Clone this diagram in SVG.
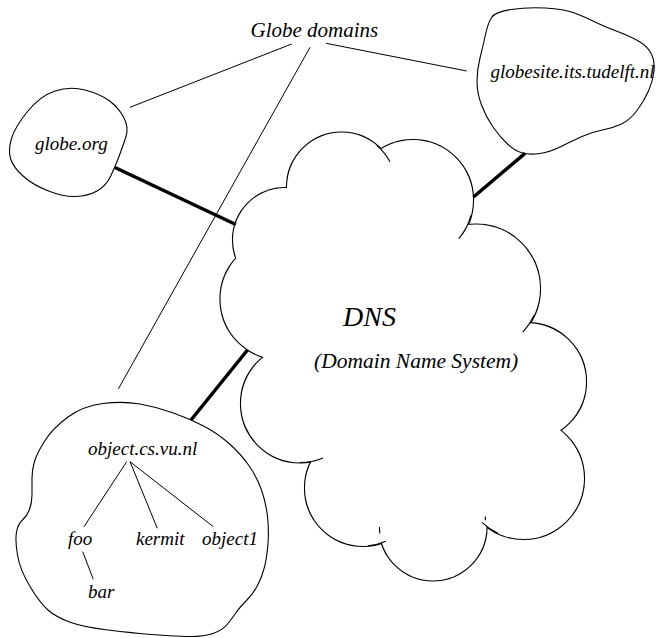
<svg xmlns="http://www.w3.org/2000/svg" xmlns:xlink="http://www.w3.org/1999/xlink" width="656" height="638" viewBox="0 0 656 638">
<style>
  text { font-family: "Liberation Serif", "Times New Roman", serif; font-style: italic; fill: #000; }
  .blob { fill: none; stroke: #000; stroke-width: 1.1; }
  .thin { stroke: #000; stroke-width: 1; fill: none; }
  .thick { stroke: #000; stroke-width: 3.5; fill: none; }
  .ov { fill: none; stroke: #000; stroke-width: 1.1; }
</style>
<defs>
  <g id="cloudShape">
    <circle cx="341.6" cy="187.1" r="54.6"/>
    <circle cx="413" cy="200" r="60"/>
    <circle cx="476" cy="288.5" r="64"/>
    <circle cx="527.5" cy="381.7" r="58.5"/>
    <circle cx="523.5" cy="478.5" r="60.5"/>
    <circle cx="433" cy="527" r="53.5"/>
    <circle cx="363" cy="488" r="58"/>
    <circle cx="300" cy="403.5" r="59"/>
    <circle cx="281" cy="299" r="60.5"/>
    <circle cx="285" cy="240" r="52"/>
  </g>
</defs>
<rect width="656" height="638" fill="#fff"/>

<g id="globe-domains">
  <text x="250.5" y="36.7" font-size="21">Globe domains</text>
</g>

<g id="globe-org">
  <path class="blob" d="M85,90 Q100,94 109,100.5 Q118,107 123.5,117 Q129,127 126,136.5 Q123,146 119,156.5 Q115,167 110.5,176.5 Q106,186 97,191 Q88,196 76,196.5 Q64,197 48.5,191 Q33,185 23,176 Q13,167 10.5,158.5 Q8,150 11.5,138.5 Q15,127 27.5,111.5 Q40,96 55,91 Q70,86 85,90 Z"/>
  <text x="35" y="150" font-size="19">globe.org</text>
</g>

<g id="globesite">
  <path class="blob" d="M511,9.5 Q527,7 545.5,8 Q564,9 574.5,13 Q585,17 594,21.5 Q603,26 617.5,31.5 Q632,37 640,42 Q648,47 651.5,54 Q655,61 654,71 Q653,81 648.5,91 Q644,101 637,110.5 Q630,120 621.5,124 Q613,128 602.5,130 Q592,132 582,136.5 Q572,141 561,146.5 Q550,152 540,153.5 Q530,155 522.5,153 Q515,151 507.5,144 Q500,137 493,127 Q486,117 481.5,105 Q477,93 477,81.5 Q477,70 480,58 Q483,46 485.5,34.5 Q488,23 491.5,17.5 Q495,12 511,9.5 Z"/>
  <text x="490.5" y="78.3" font-size="19">globesite.its.tudelft.nl</text>
</g>

<g id="dns">
  <use xlink:href="#cloudShape" href="#cloudShape" fill="none" stroke="#000" stroke-width="2.2"/>
  <use xlink:href="#cloudShape" href="#cloudShape" fill="#fff" stroke="none"/>
  <polygon fill="#fff" points="341.6,187.1 413,200 476,288.5 527.5,381.7 523.5,478.5 433,527 363,488 300,403.5 281,299 285,240"/>
  <path class="ov" d="M376.7,145.3 A54.6,54.6 0 0 1 389.9,161.7"/>
  <path class="ov" d="M471,215.5 A60,60 0 0 1 458.8,238.7"/>
  <path class="ov" d="M534,315.6 A64,64 0 0 1 522.8,332.1"/>
  <path class="ov" d="M497.9,533.3 A60.5,60.5 0 0 1 481.9,522.4"/>
  <path class="ov" d="M368.1,545.8 A58,58 0 0 0 385.9,541.3"/>
  <path class="ov" d="M300,462.5 A59,59 0 0 0 322.9,457.9"/>
  <path class="ov" d="M379.4,527 L379.8,533.5"/>
  <path class="ov" d="M485.3,516.6 L485.4,520.2"/>
  <text x="343" y="326" font-size="28">DNS</text>
  <text x="314" y="368.3" font-size="21.5">(Domain Name System)</text>
</g>

<g id="object-cs-vu-nl">
  <path class="blob" d="M140,404 Q157,407 173.5,413 Q190,419 203.5,426 Q217,433 228.5,443 Q240,453 248.5,465 Q257,477 261.5,490 Q266,503 267.5,516.5 Q269,530 268,543.5 Q267,557 264.5,567 Q262,577 257.5,585.5 Q253,594 246.5,600.5 Q240,607 236.5,612 Q233,617 228,623.5 Q223,630 213,633.5 Q203,637 186.5,636.5 Q170,636 151.5,634.5 Q133,633 108,630 Q83,627 69.5,622 Q56,617 48,610 Q40,603 30,586.5 Q20,570 17.5,555 Q15,540 16.5,532 Q18,524 22.5,520 Q27,516 29.5,509.5 Q32,503 32,494.5 Q32,486 32,478 Q32,470 34.5,461.5 Q37,453 45,440.5 Q53,428 68,417 Q83,406 103,403.5 Q123,401 140,404 Z"/>
  <text x="88" y="455" font-size="19">object.cs.vu.nl</text>
  <g id="foo"><text x="68" y="545" font-size="19">foo</text></g>
  <g id="kermit"><text x="136" y="545" font-size="19">kermit</text></g>
  <g id="object1"><text x="202" y="545" font-size="19">object1</text></g>
  <g id="bar"><text x="88" y="598" font-size="19">bar</text></g>
</g>

<g id="connectors">
  <line class="thin" x1="291.7" y1="44" x2="130" y2="107.3"/>
  <line class="thin" x1="310" y1="47.3" x2="118.3" y2="389"/>
  <line class="thin" x1="326" y1="43.3" x2="466.7" y2="71"/>
  <line class="thick" x1="115" y1="167.5" x2="235.8" y2="224.5"/>
  <line class="thick" x1="525" y1="153.3" x2="473.5" y2="197"/>
  <line class="thick" x1="191" y1="420" x2="247.5" y2="350"/>
  <line class="thin" x1="126.7" y1="461.7" x2="84" y2="526.7"/>
  <line class="thin" x1="130" y1="461.7" x2="157.3" y2="528.3"/>
  <line class="thin" x1="130" y1="461.7" x2="213.3" y2="526.7"/>
  <line class="thin" x1="82.7" y1="551.7" x2="93.3" y2="579.3"/>
</g>
</svg>
